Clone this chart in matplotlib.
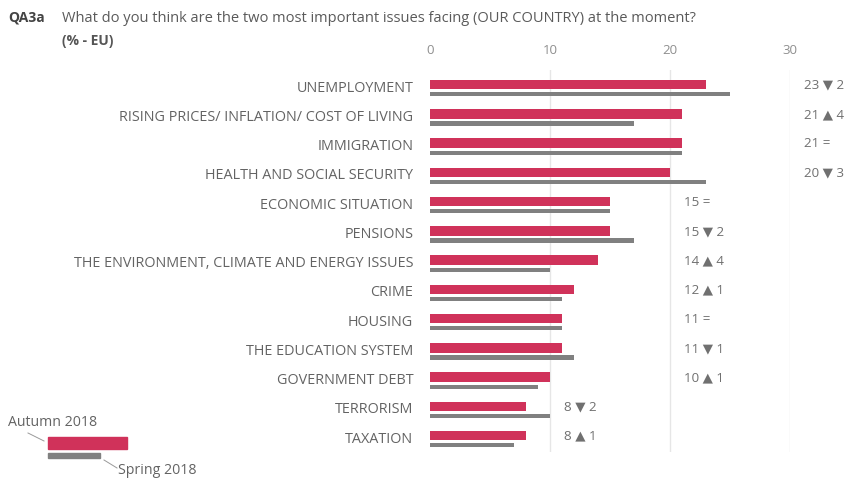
import numpy as np
import matplotlib.pyplot as plt
from matplotlib.patches import Rectangle
from matplotlib.lines import Line2D

plt.rcParams['font.family'] = ['Open Sans', 'DejaVu Sans']

issues = ["UNEMPLOYMENT", "RISING PRICES/ INFLATION/ COST OF LIVING", "IMMIGRATION",
          "HEALTH AND SOCIAL SECURITY", "ECONOMIC SITUATION", "PENSIONS",
          "THE ENVIRONMENT, CLIMATE AND ENERGY ISSUES", "CRIME", "HOUSING",
          "THE EDUCATION SYSTEM", "GOVERNMENT DEBT", "TERRORISM", "TAXATION"]
autumn_2018 = [23, 21, 21, 20, 15, 15, 14, 12, 11, 11, 10, 8, 8]
spring_2018 = [25, 17, 21, 23, 15, 17, 10, 11, 11, 12, 9, 10, 7]
x_ticks = [0, 10, 20, 30]

RED = "#d0325a"
GREY = "#808080"
TXT = "#636363"

W, H = 854, 479
fig = plt.figure(figsize=(W / 100, H / 100), dpi=100)
ax = fig.add_axes([430 / W, 1 - 452 / H, 360 / W, (452 - 70) / H])

y = np.arange(len(issues))
ax.barh(y, autumn_2018, height=0.33, color=RED, zorder=3)
ax.barh(y + 0.33, spring_2018, height=0.14, color=GREY, zorder=3)

ax.set_xlim(0, 30)
ax.set_ylim(12.56, -0.5)
ax.set_xticks(x_ticks)
ax.xaxis.tick_top()
ax.tick_params(axis='x', length=0, pad=9, labelsize=9.5, labelcolor="#8f8f8f")
ax.set_yticks(y + 0.05)
ax.set_yticklabels(issues)
ax.tick_params(axis='y', length=0, pad=12, labelsize=10.4, labelcolor=TXT)
for s in ax.spines.values():
    s.set_visible(False)
for t in x_ticks[1:]:
    ax.axvline(t, color="#e6e6e6", lw=1, zorder=1)

# evolution labels: value, arrow and change vs spring
for i, (a, s) in enumerate(zip(autumn_2018, spring_2018)):
    d = a - s
    if d > 0:
        txt = f"{a} \u25B2 {d}"
    elif d < 0:
        txt = f"{a} \u25BC {-d}"
    else:
        txt = f"{a} ="
    xpos = np.ceil((a + 1) / 10) * 10 + 1.2
    ax.text(xpos, i + 0.02, txt, va='center', ha='left', fontsize=9.6,
            color="#707070", clip_on=False)

# title
fig.text(8 / W, 1 - 18 / H, "QA3a", fontsize=10, fontweight='bold', color="#444444", va='center')
fig.text(62 / W, 1 - 18 / H,
         "What do you think are the two most important issues facing (OUR COUNTRY) at the moment?",
         fontsize=10.5, color="#5a5a5a", va='center')
fig.text(62 / W, 1 - 41 / H, "(% - EU)", fontsize=10, fontweight='bold', color="#555555", va='center')

# legend
fig.add_artist(Rectangle((48 / W, 1 - 449 / H), 79 / W, 12 / H, color=RED,
                         transform=fig.transFigure))
fig.add_artist(Rectangle((48 / W, 1 - 458 / H), 52 / W, 5 / H, color=GREY,
                         transform=fig.transFigure))
fig.text(8 / W, 1 - 422 / H, "Autumn 2018", fontsize=10.2, color=TXT, va='center')
fig.text(118 / W, 1 - 471 / H, "Spring 2018", fontsize=10.2, color=TXT, va='center')
fig.add_artist(Line2D([28 / W, 44 / W], [1 - 433 / H, 1 - 441 / H], color="#999999", lw=0.7,
                      transform=fig.transFigure))
fig.add_artist(Line2D([104 / W, 117 / W], [1 - 460 / H, 1 - 468 / H], color="#999999", lw=0.7,
                      transform=fig.transFigure))

fig.savefig("out.png", dpi=100)
